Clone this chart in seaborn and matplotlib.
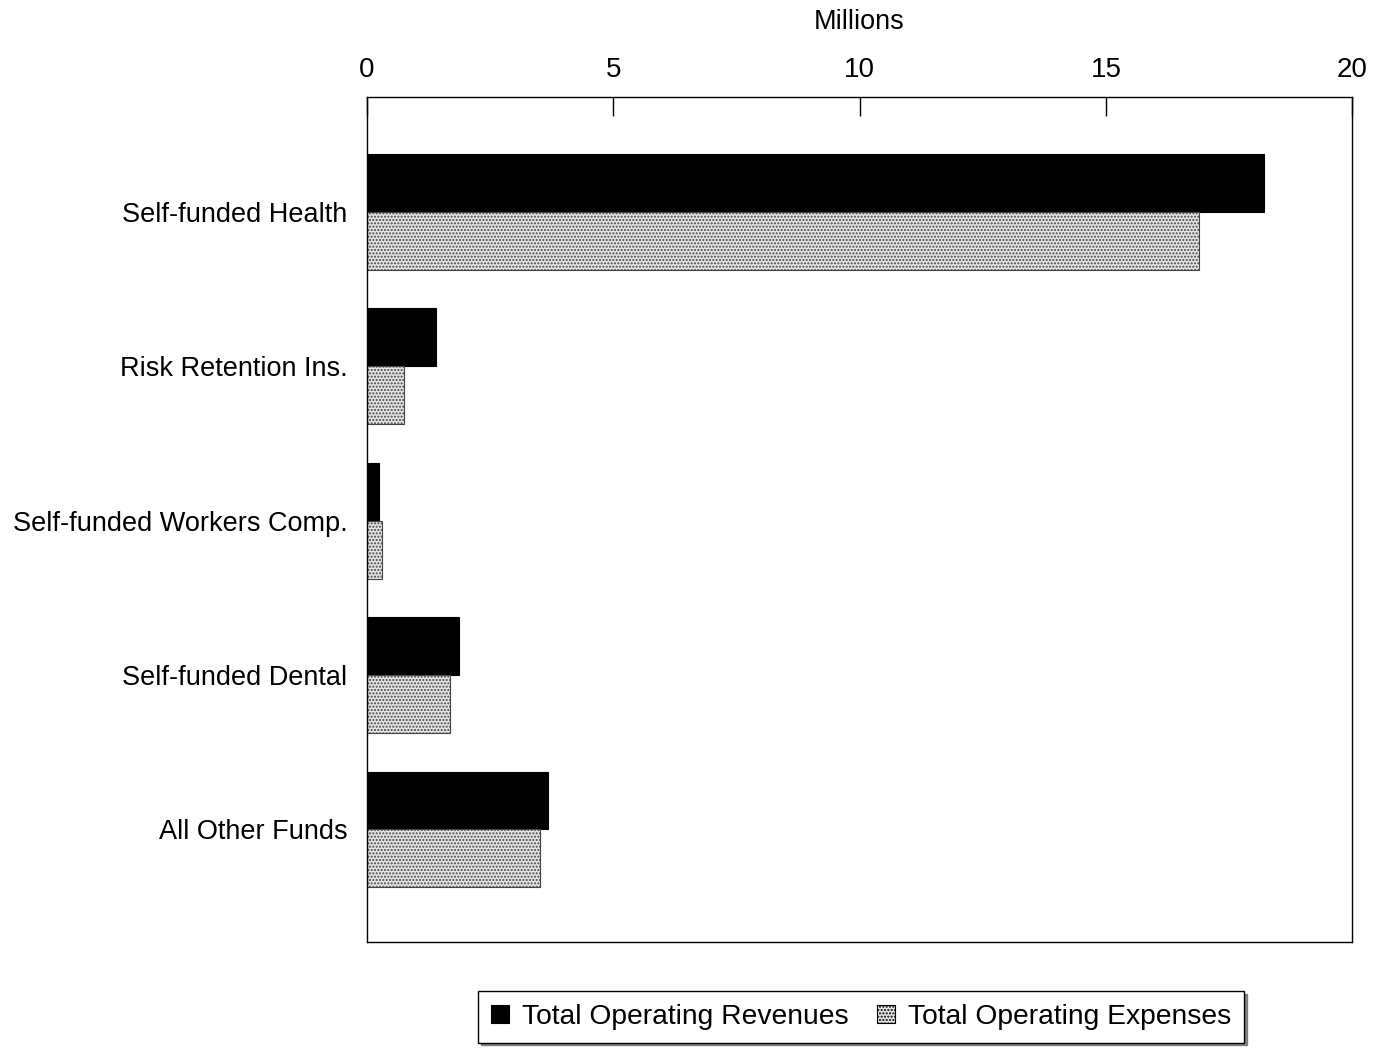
import matplotlib
matplotlib.use("Agg")
import matplotlib.pyplot as plt
import seaborn as sns
import pandas as pd

categories = ["Self-funded Health", "Risk Retention Ins.", "Self-funded Workers Comp.",
              "Self-funded Dental", "All Other Funds"]
revenues = [18.21, 1.40, 0.24, 1.87, 3.68]
expenses = [16.89, 0.75, 0.30, 1.69, 3.51]
series_names = ["Total Operating Revenues", "Total Operating Expenses"]
x_ticks = [0, 5, 10, 15, 20]

df = pd.DataFrame({
    "fund": categories * 2,
    "value": revenues + expenses,
    "series": [series_names[0]] * len(categories) + [series_names[1]] * len(categories),
})

sns.set_style("white")
plt.rcParams["font.family"] = ["Liberation Sans", "DejaVu Sans"]
plt.rcParams["text.color"] = "black"
plt.rcParams["xtick.color"] = "black"
plt.rcParams["ytick.color"] = "black"
plt.rcParams["axes.labelcolor"] = "black"

fig = plt.figure(figsize=(13.91, 10.48), dpi=100)
ax = fig.add_axes([0.2638, 0.1011, 0.7083, 0.8063])

sns.barplot(data=df, y="fund", x="value", hue="series", orient="h",
            palette=["#000000", "#e4e4e4"], width=0.75, ax=ax,
            edgecolor="black", linewidth=0.8, legend=True)

# dotted fill for the expenses series
for bar in ax.containers[1]:
    bar.set_hatch(".....")
    bar.set_edgecolor("#444444")

ax.set_xlim(0, 20)
ax.set_ylim(4.73, -0.745)
ax.set_xticks(x_ticks)
ax.xaxis.tick_top()
ax.xaxis.set_label_position("top")
ax.set_xlabel("Millions", fontsize=19.5, labelpad=20)
ax.set_ylabel("")
ax.tick_params(axis="x", direction="in", length=14, width=1, labelsize=20, pad=10,
               top=True, bottom=False)
ax.tick_params(axis="y", length=0, labelsize=19.5, pad=14)
for s in ax.spines.values():
    s.set_visible(True)
    s.set_color("black")
    s.set_linewidth(1.0)

handles, labels = ax.get_legend_handles_labels()
ax.get_legend().remove()
for h in handles:
    h.set_edgecolor("black")
handles[1].set_hatch(".....")
leg = fig.legend(handles, labels, loc="center", bbox_to_anchor=(0.619, 0.0296),
                 ncol=2, fontsize=20.3, frameon=True, fancybox=False,
                 shadow={"color": "#777777", "alpha": 0.9},
                 handlelength=0.65, handleheight=0.65, handletextpad=0.45,
                 columnspacing=1.0, borderpad=0.45, borderaxespad=0)
leg.get_frame().set_edgecolor("black")
leg.get_frame().set_linewidth(1.0)

fig.savefig("out.png", dpi=100)
